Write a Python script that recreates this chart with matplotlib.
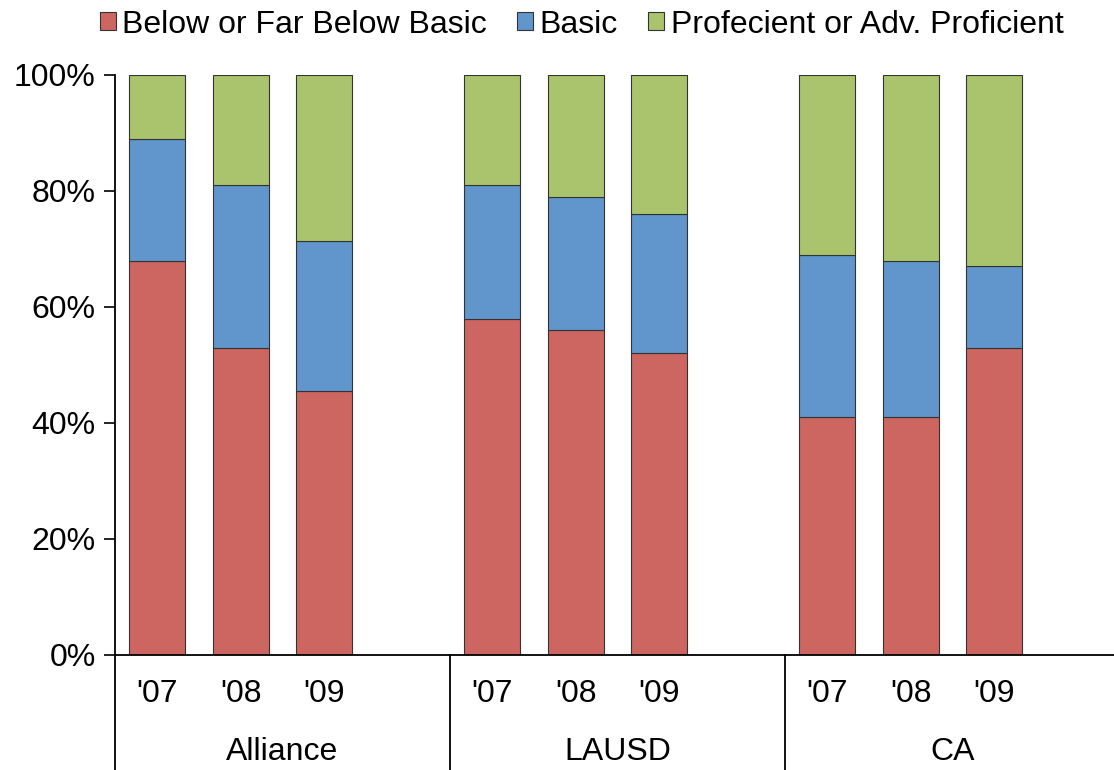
import matplotlib
matplotlib.use("Agg")
import matplotlib.pyplot as plt
from matplotlib.patches import Patch
from matplotlib.lines import Line2D
import numpy as np

plt.rcParams['font.family'] = ['Liberation Sans', 'DejaVu Sans']

groups = ["Alliance", "LAUSD", "CA"]
years = ["'07", "'08", "'09"]
series_names = ["Below or Far Below Basic", "Basic", "Profecient or Adv. Proficient"]
below = [68, 53, 45.5, 58, 56, 52, 41, 41, 53]
basic_top = [89, 81, 71.3, 81, 79, 76, 69, 68, 67]
basic = [t - b for t, b in zip(basic_top, below)]
prof = [100 - t for t in basic_top]
colors = ["#CD6660", "#6096CB", "#AAC46D"]

fig = plt.figure(figsize=(11.14, 7.7), dpi=100)
ax = fig.add_axes([115/1114, 1-655/770, 1-115/1114, (655-75)/770])

x = []
for g in range(len(groups)):
    for i in range(len(years)):
        x.append(g * 4 + i)
x = np.array(x, dtype=float)

w = 0.67
ax.bar(x, below, w, color=colors[0], edgecolor="#333333", linewidth=0.8)
ax.bar(x, basic, w, bottom=below, color=colors[1], edgecolor="#333333", linewidth=0.8)
ax.bar(x, prof, w, bottom=basic_top, color=colors[2], edgecolor="#333333", linewidth=0.8)

ax.set_xlim(-0.5, -0.5 + 999/83.75)
ax.set_ylim(0, 100)
ax.set_yticks(range(0, 101, 20))
ax.set_yticklabels([f"{v}%" for v in range(0, 101, 20)])
ax.tick_params(axis='y', labelsize=23, length=8, width=1.2, direction='out', pad=6)
ax.set_xticks([])
for s in ["top", "right"]:
    ax.spines[s].set_visible(False)
for s in ["left", "bottom"]:
    ax.spines[s].set_linewidth(1.3)

# year labels
trans = ax.get_xaxis_transform()
for i, xi in enumerate(x):
    ax.text(xi, -39/580, years[i % 3], transform=trans, ha='center', va='center', fontsize=23)
# group labels and separators
for g, name in enumerate(groups):
    ax.text(g * 4 + 1.5, -97/580, name, transform=trans, ha='center', va='center', fontsize=23)
    xs = g * 4 - 0.5
    ax.add_line(Line2D([xs, xs], [0, -115/580], transform=trans, color='black',
                       linewidth=1.3, clip_on=False))

handles = [Patch(facecolor=c, edgecolor="#333333", linewidth=0.8) for c in colors]
fig.legend(handles, series_names, loc='center', bbox_to_anchor=(0.522, 0.968), ncol=3,
           frameon=False, fontsize=23, handlelength=0.5, handleheight=0.5,
           handletextpad=0.2, columnspacing=0.95, borderaxespad=0)

fig.savefig("out.png", dpi=100)
